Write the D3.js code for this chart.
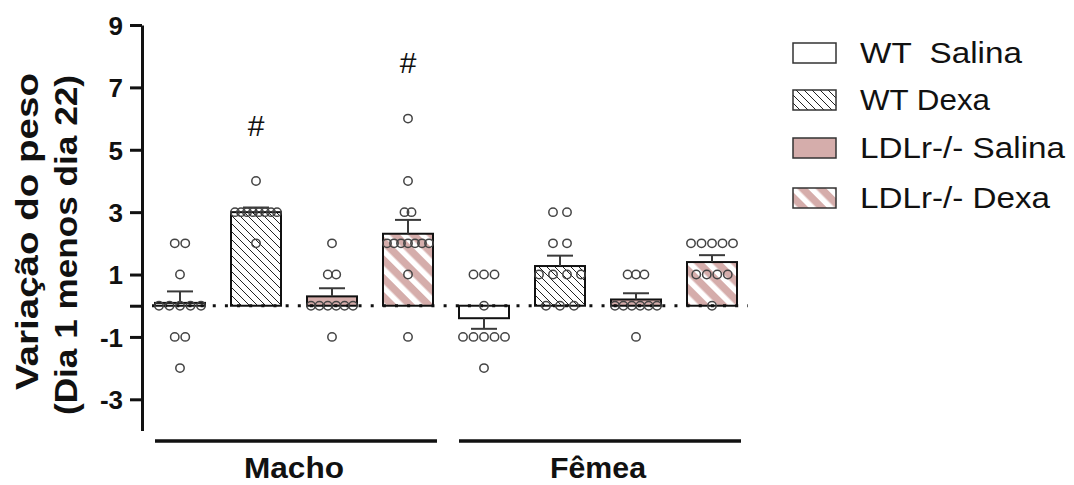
<!DOCTYPE html>
<html>
<head>
<meta charset="utf-8">
<script src="https://cdn.jsdelivr.net/npm/d3@7"></script>
<style>
  html, body { margin: 0; padding: 0; background: #ffffff; }
  svg { display: block; }
</style>
</head>
<body>
<svg id="chart" width="1074" height="485"></svg>
<script>
// ---------------- data ----------------
const sexes = ["Macho", "Fêmea"];
const treatments = ["WT  Salina", "WT Dexa", "LDLr-/- Salina", "LDLr-/- Dexa"];

// individual animals: change in weight (day 1 minus day 22)
const machoWTSalina   = [2, 2, 1, 0, 0, 0, 0, 0, -1, -1, -2];
const machoWTDexa     = [4, 3, 3, 3, 3, 3, 3, 3, 3, 2];
const machoLDLrSalina = [2, 1, 1, 0, 0, 0, 0, 0, 0, -1];
const machoLDLrDexa   = [6, 4, 3, 3, 2, 2, 2, 2, 2, 2, 2, 1, -1];
const femeaWTSalina   = [1, 1, 1, 0, -1, -1, -1, -1, -1, -2];
const femeaWTDexa     = [3, 3, 2, 2, 1, 1, 1, 1, 0, 0, 0];
const femeaLDLrSalina = [1, 1, 1, 0, 0, 0, 0, 0, 0, -1];
const femeaLDLrDexa   = [2, 2, 2, 2, 2, 1, 1, 1, 1, 0];

const significance = ["", "#", "", "#", "", "", "", ""];
const yTicks = [9, 7, 5, 3, 1, 0, -1, -3];
const yTickLabels = ["9", "7", "5", "3", "1", "", "-1", "-3"];
const yTitle = ["Variação do peso", "(Dia 1 menos dia 22)"];

// ---------------- build table ----------------
const groupValues = [
  machoWTSalina, machoWTDexa, machoLDLrSalina, machoLDLrDexa,
  femeaWTSalina, femeaWTDexa, femeaLDLrSalina, femeaLDLrDexa
];
const groups = groupValues.map((vals, i) => {
  const sex = sexes[Math.floor(i / 4)];
  const trt = treatments[i % 4];
  const mean = d3.mean(vals);
  const sem = d3.deviation(vals) / Math.sqrt(vals.length);
  return { key: sex + "|" + trt, sex, trt, t: i % 4, vals, mean, sem, sig: significance[i] };
});

// ---------------- styles ----------------
const PINK = "#d5adab";
const FONT = "'Liberation Sans', Arial, Helvetica, sans-serif";

const svg = d3.select("#chart");
const defs = svg.append("defs");

// thin black hatch "\\\\"
const hatch = defs.append("pattern")
  .attr("id", "hatch").attr("patternUnits", "userSpaceOnUse")
  .attr("width", 8).attr("height", 8);
hatch.append("rect").attr("width", 8).attr("height", 8).attr("fill", "#fff");
hatch.append("path")
  .attr("d", "M-1,-1 L9,9 M7,-1 L9,1 M-1,7 L1,9")
  .attr("stroke", "#222").attr("stroke-width", 1);

// pink with white diagonal stripes
const stripes = defs.append("pattern")
  .attr("id", "stripes").attr("patternUnits", "userSpaceOnUse")
  .attr("width", 13).attr("height", 13)
  .attr("patternTransform", "rotate(-45)");
stripes.append("rect").attr("width", 13).attr("height", 13).attr("fill", PINK);
stripes.append("rect").attr("x", 0).attr("width", 5.5).attr("height", 13).attr("fill", "#fff");

const fills = ["#ffffff", "url(#hatch)", PINK, "url(#stripes)"];

// ---------------- scales ----------------
const y = d3.scaleLinear().domain([-4, 9]).range([430.5, 25]);
const x = d3.scalePoint().domain(groups.map(g => g.key)).range([142, 750]).padding(0.5);
const barW = 50;

// ---------------- bars ----------------
svg.append("g").selectAll("rect").data(groups).join("rect")
  .attr("x", d => x(d.key) - barW / 2)
  .attr("y", d => y(Math.max(0, d.mean)))
  .attr("width", barW)
  .attr("height", d => Math.abs(y(d.mean) - y(0)))
  .attr("fill", d => fills[d.t])
  .attr("stroke", "#111").attr("stroke-width", 2);

// ---------------- zero dotted line ----------------
svg.append("line")
  .attr("x1", 152).attr("x2", 748)
  .attr("y1", y(0)).attr("y2", y(0))
  .attr("stroke", "#111").attr("stroke-width", 3.2)
  .attr("stroke-dasharray", "3 9.15");

// ---------------- error bars ----------------
const eg = svg.append("g").attr("stroke", "#3a3a3a").attr("stroke-width", 2).attr("fill", "none");
groups.forEach(g => {
  const dir = g.mean >= 0 ? 1 : -1;
  const end = g.mean + dir * g.sem;
  const cx = x(g.key);
  eg.append("line").attr("x1", cx).attr("x2", cx).attr("y1", y(g.mean)).attr("y2", y(end));
  eg.append("line").attr("x1", cx - 13).attr("x2", cx + 13).attr("y1", y(end)).attr("y2", y(end));
});

// ---------------- scatter points ----------------
const pts = [];
groups.forEach(g => {
  const rows = d3.group(g.vals, v => v);
  const maxRow = d3.max(Array.from(rows.values(), r => r.length));
  const sp = Math.min(14, 42 / Math.max(1, maxRow - 1));
  rows.forEach((arr, v) => {
    arr.forEach((_, i) => {
      pts.push({ cx: x(g.key) + (i - (arr.length - 1) / 2) * sp, v });
    });
  });
});
svg.append("g").selectAll("circle").data(pts).join("circle")
  .attr("cx", d => d.cx).attr("cy", d => y(d.v)).attr("r", 4.2)
  .attr("fill", "none").attr("stroke", "#444").attr("stroke-width", 1.5);

// ---------------- significance marks ----------------
svg.append("g").selectAll("text").data(groups.filter(g => g.sig)).join("text")
  .attr("x", d => x(d.key)).attr("y", d => y(d3.max(d.vals) + 1.45))
  .attr("text-anchor", "middle")
  .attr("font-family", FONT).attr("font-size", 30).attr("fill", "#111")
  .text(d => d.sig);

// ---------------- y axis ----------------
const yAxis = svg.append("g").attr("transform", "translate(142,0)")
  .call(d3.axisLeft(y).tickValues(yTicks)
    .tickFormat((d, i) => yTickLabels[i])
    .tickSize(12).tickSizeOuter(0).tickPadding(7));
yAxis.select(".domain").attr("stroke", "#111").attr("stroke-width", 3);
yAxis.selectAll(".tick line").attr("stroke", "#111").attr("stroke-width", 3);
yAxis.selectAll(".tick text")
  .attr("font-family", FONT).attr("font-size", 26).attr("font-weight", "bold")
  .attr("fill", "#111").attr("dy", "0.36em");

// y title
const titleLines = [
  { text: yTitle[0], bx: 38, start: 390, len: 317 },
  { text: yTitle[1], bx: 77, start: 415, len: 340 }
];
svg.append("g").selectAll("text").data(titleLines).join("text")
  .attr("transform", d => `translate(${d.bx},${d.start}) rotate(-90)`)
  .attr("text-anchor", "start")
  .attr("font-family", FONT).attr("font-size", 32).attr("font-weight", "bold")
  .attr("fill", "#111")
  .attr("textLength", d => d.len).attr("lengthAdjust", "spacingAndGlyphs")
  .text(d => d.text);

// ---------------- group (sex) lines and labels ----------------
sexes.forEach(s => {
  const keys = groups.filter(g => g.sex === s).map(g => x(g.key));
  const x0 = d3.min(keys), x1 = d3.max(keys);
  svg.append("line")
    .attr("x1", x0 - 25).attr("x2", x1 + 29)
    .attr("y1", 441).attr("y2", 441)
    .attr("stroke", "#111").attr("stroke-width", 3.5);
  svg.append("text")
    .attr("x", (x0 + x1) / 2).attr("y", 478)
    .attr("text-anchor", "middle")
    .attr("font-family", FONT).attr("font-size", 29).attr("font-weight", "bold")
    .attr("fill", "#111")
    .attr("textLength", s === "Macho" ? 100 : 96).attr("lengthAdjust", "spacingAndGlyphs")
    .text(s);
});

// ---------------- legend ----------------
const legendLens = [162, 130, 205, 190];
const leg = svg.append("g").selectAll("g").data(treatments).join("g")
  .attr("transform", (d, i) => `translate(0,${[63, 110, 158, 208][i]})`);
leg.append("rect")
  .attr("x", 793).attr("y", -20).attr("width", 43).attr("height", 20)
  .attr("fill", (d, i) => fills[i])
  .attr("stroke", "#333").attr("stroke-width", 1.5);
leg.append("text")
  .attr("x", 860).attr("y", 0)
  .attr("font-family", FONT).attr("font-size", 29)
  .attr("fill", "#111")
  .style("white-space", "pre")
  .attr("textLength", (d, i) => legendLens[i]).attr("lengthAdjust", "spacingAndGlyphs")
  .text(d => d);
</script>
</body>
</html>
